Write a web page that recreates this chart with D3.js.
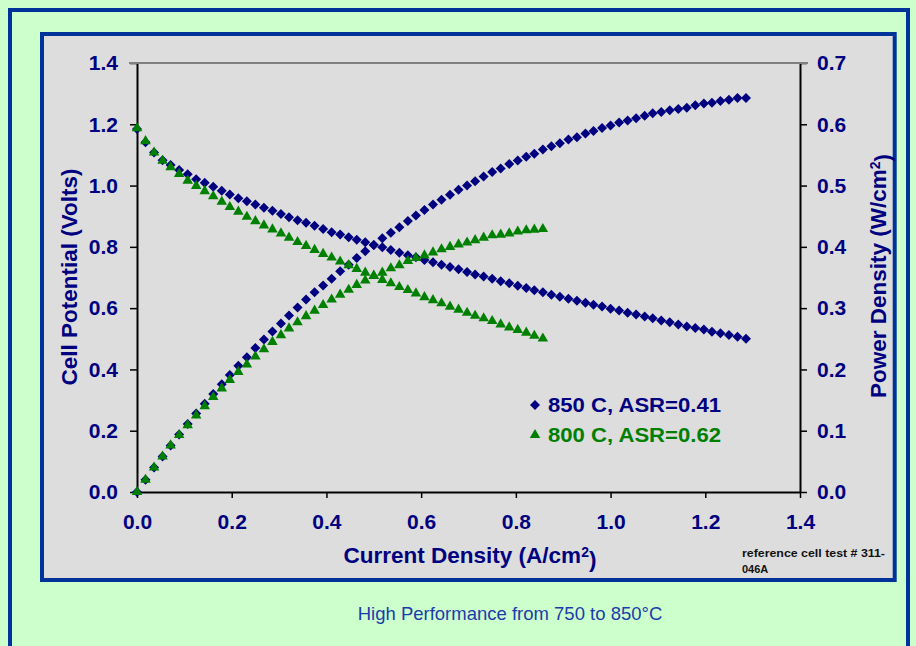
<!DOCTYPE html>
<html>
<head>
<meta charset="utf-8">
<script src="https://cdn.jsdelivr.net/npm/d3@7"></script>
<style>
  body { margin: 0; background: #ccffcc; }
  svg { display: block; }
</style>
</head>
<body>
<svg id="chart"></svg>
<script>
// current density (A/cm2), cell potential (V), power density (W/cm2)
const current850 = [0.000,0.018,0.036,0.054,0.071,0.089,0.107,0.125,0.143,0.161,0.179,0.196,0.214,0.232,0.250,0.268,0.286,0.304,0.321,0.339,
  0.357,0.375,0.393,0.411,0.429,0.447,0.464,0.482,0.500,0.518,0.536,0.554,0.572,0.589,0.607,0.625,0.643,0.661,0.679,0.697,
  0.714,0.732,0.750,0.768,0.786,0.804,0.822,0.839,0.857,0.875,0.893,0.911,0.929,0.947,0.964,0.982,1.000,1.018,1.036,1.054,
  1.072,1.089,1.107,1.125,1.143,1.161,1.179,1.197,1.214,1.232,1.250,1.268,1.286];
const volt850 = [1.185,1.141,1.108,1.083,1.067,1.051,1.037,1.021,1.009,0.996,0.983,0.971,0.959,0.949,0.938,0.928,0.918,0.907,0.897,0.887,
  0.879,0.869,0.858,0.848,0.840,0.831,0.823,0.815,0.806,0.799,0.790,0.781,0.773,0.766,0.757,0.750,0.742,0.734,0.727,0.718,
  0.710,0.703,0.696,0.688,0.681,0.673,0.666,0.658,0.652,0.644,0.637,0.631,0.624,0.618,0.611,0.605,0.598,0.592,0.585,0.579,
  0.573,0.567,0.560,0.554,0.547,0.540,0.535,0.530,0.523,0.518,0.512,0.507,0.500];
const power850 = [0.000,0.020,0.040,0.058,0.076,0.094,0.111,0.128,0.144,0.160,0.176,0.191,0.206,0.220,0.235,0.249,0.262,0.275,0.288,0.301,
  0.314,0.326,0.337,0.348,0.360,0.371,0.382,0.393,0.403,0.414,0.423,0.432,0.442,0.451,0.460,0.469,0.477,0.485,0.493,0.500,
  0.507,0.515,0.522,0.528,0.535,0.541,0.547,0.552,0.559,0.564,0.569,0.575,0.579,0.585,0.589,0.594,0.598,0.603,0.606,0.610,
  0.614,0.618,0.620,0.623,0.625,0.627,0.631,0.634,0.635,0.638,0.640,0.643,0.643];

const current800 = [0.000,0.018,0.036,0.054,0.071,0.089,0.107,0.125,0.143,0.161,0.179,0.196,0.214,0.232,0.250,0.268,0.286,0.304,0.321,0.339,
  0.357,0.375,0.393,0.411,0.429,0.447,0.464,0.482,0.500,0.518,0.536,0.554,0.572,0.589,0.607,0.625,0.643,0.661,0.679,0.697,
  0.714,0.732,0.750,0.768,0.786,0.804,0.822,0.839,0.857];
const volt800 = [1.187,1.145,1.108,1.081,1.060,1.038,1.016,0.999,0.982,0.965,0.947,0.930,0.915,0.898,0.884,0.870,0.857,0.844,0.830,0.816,
  0.803,0.790,0.777,0.765,0.752,0.740,0.728,0.716,0.705,0.692,0.681,0.669,0.659,0.648,0.636,0.626,0.616,0.605,0.595,0.585,
  0.575,0.567,0.558,0.547,0.537,0.529,0.520,0.510,0.501];
const power800 = [0.000,0.020,0.040,0.058,0.076,0.093,0.109,0.125,0.140,0.155,0.169,0.183,0.196,0.208,0.221,0.233,0.245,0.256,0.267,0.277,
  0.287,0.296,0.305,0.314,0.322,0.330,0.338,0.345,0.353,0.358,0.365,0.370,0.377,0.382,0.386,0.391,0.396,0.400,0.404,0.407,
  0.411,0.415,0.419,0.420,0.422,0.425,0.427,0.428,0.429];

const xTicks = [0, 0.2, 0.4, 0.6, 0.8, 1.0, 1.2, 1.4];
const voltTicks = [0, 0.2, 0.4, 0.6, 0.8, 1.0, 1.2, 1.4];
const powerTicks = [0, 0.1, 0.2, 0.3, 0.4, 0.5, 0.6, 0.7];
const legendLabels = ["850 C, ASR=0.41", "800 C, ASR=0.62"];

let width = 916;
let height = 646;
const navy = "#000080";
const green = "#008000";
const font = "Arial, 'Liberation Sans', sans-serif";

const svg = d3.select("#chart")
    .attr("width", width)
    .attr("height", height)
    .style("font-family", font);

// frames
svg.append("rect")
    .attr("x", 10).attr("y", 10)
    .attr("width", 898).attr("height", 660)
    .attr("fill", "#ccffcc")
    .attr("stroke", "#003399").attr("stroke-width", 4);

svg.append("rect")
    .attr("x", 42).attr("y", 34)
    .attr("width", 852.7).attr("height", 546)
    .attr("fill", "#dddddd")
    .attr("stroke", "#003399").attr("stroke-width", 4);

const x = d3.scaleLinear().domain([0, 1.4]).range([137, 800]);
const yV = d3.scaleLinear().domain([0, 1.4]).range([492, 63]);
const yP = d3.scaleLinear().domain([0, 0.7]).range([492, 63]);

const fmt = d3.format(".1f");

function styleAxis(g) {
    g.select(".domain").attr("stroke", "#000").attr("stroke-width", 2);
    g.selectAll(".tick line").attr("stroke", "#000").attr("stroke-width", 1.5);
    g.selectAll(".tick text")
        .attr("fill", navy)
        .style("font-size", "21px")
        .style("font-weight", "bold")
        .style("font-family", font);
}

svg.append("g")
    .attr("transform", "translate(0,492)")
    .call(d3.axisBottom(x).tickValues(xTicks).tickFormat(fmt).tickSize(6).tickSizeOuter(0).tickPadding(16))
    .call(styleAxis);

svg.append("g")
    .attr("transform", "translate(137,0)")
    .call(d3.axisLeft(yV).tickValues(voltTicks).tickFormat(fmt).tickSize(7).tickSizeOuter(0).tickPadding(12))
    .call(styleAxis);

svg.append("g")
    .attr("transform", "translate(800,0)")
    .call(d3.axisRight(yP).tickValues(powerTicks).tickFormat(fmt).tickSize(7).tickSizeOuter(0).tickPadding(10))
    .call(styleAxis);

// grey top edge of the plot
svg.append("line")
    .attr("x1", 129).attr("x2", 808)
    .attr("y1", yV(1.4)).attr("y2", yV(1.4))
    .attr("stroke", "#808080").attr("stroke-width", 2);

// markers
const diamond = d3.symbol(d3.symbolSquare, 50);
const triangle = d3.symbol(d3.symbolTriangle, 48);

function plot(cur, vals, scale, sym, color, rot) {
    svg.append("g")
        .selectAll("path")
        .data(cur.map((c, i) => [c, vals[i]]))
        .join("path")
        .attr("d", sym)
        .attr("fill", color)
        .attr("transform", d => `translate(${x(d[0])},${scale(d[1])}) rotate(${rot})`);
}

plot(current850, volt850, yV, diamond, navy, 45);
plot(current850, power850, yP, diamond, navy, 45);
plot(current800, volt800, yV, triangle, green, 0);
plot(current800, power800, yP, triangle, green, 0);

// legend
const legend = svg.append("g");
[[diamond, navy, 45], [triangle, green, 0]].forEach((s, i) => {
    legend.append("path")
        .attr("d", s[0])
        .attr("fill", s[1])
        .attr("transform", `translate(535,${405 + i * 30}) rotate(${s[2]})`);
    legend.append("text")
        .attr("x", 548).attr("y", 412 + i * 30)
        .attr("fill", s[1])
        .attr("textLength", 173).attr("lengthAdjust", "spacingAndGlyphs")
        .style("font-size", "21px").style("font-weight", "bold")
        .text(legendLabels[i]);
});

// axis titles
function title(tx, ty, rot, main) {
    const t = svg.append("text")
        .attr("transform", `translate(${tx},${ty}) rotate(${rot})`)
        .attr("text-anchor", "middle")
        .attr("fill", navy)
        .style("font-size", "22.5px").style("font-weight", "bold");
    t.append("tspan").text(main[0]);
    if (main.length > 1) {
        t.append("tspan").attr("dy", "-0.45em").style("font-size", "14px").text(main[1]);
        t.append("tspan").attr("dy", "0.45em").text(main[2]);
    }
    return t;
}

title(470, 563, 0, ["Current Density (A/cm", "2", ")"]);
title(77, 277, -90, ["Cell Potential (Volts)"]);
title(886, 276, -90, ["Power Density (W/cm", "2", ")"]);

// note
svg.append("text")
    .attr("x", 742).attr("y", 557)
    .attr("fill", "#111")
    .attr("textLength", 143).attr("lengthAdjust", "spacingAndGlyphs")
    .style("font-size", "11px").style("font-weight", "bold")
    .text("reference cell test # 311-");
svg.append("text")
    .attr("x", 742).attr("y", 573)
    .attr("fill", "#111")
    .style("font-size", "11px").style("font-weight", "bold")
    .text("046A");

// caption
svg.append("text")
    .attr("x", 510).attr("y", 620)
    .attr("text-anchor", "middle")
    .attr("fill", "#1a3caa")
    .style("font-size", "18.5px")
    .text("High Performance from 750 to 850°C");
</script>
</body>
</html>
